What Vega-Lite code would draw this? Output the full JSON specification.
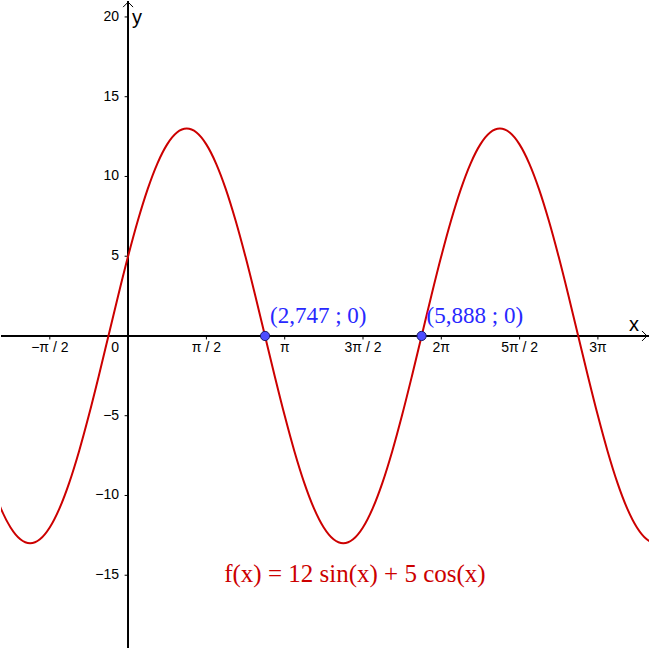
{
  "$schema": "https://vega.github.io/schema/vega-lite/v6.json",
  "width": 650,
  "height": 649,
  "padding": 0,
  "autosize": {"type": "fit", "contains": "padding"},
  "background": "white",
  "config": {"view": {"stroke": null}},
  "datasets": {
    "curve": [
      {"x": -2.751, "y": -9.192}, {"x": -2.5546, "y": -10.809}, {"x": -2.3583, "y": -12.01}, {"x": -2.1619, "y": -12.75},
      {"x": -1.9656, "y": -13}, {"x": -1.7692, "y": -12.75}, {"x": -1.5729, "y": -12.01}, {"x": -1.3765, "y": -10.809},
      {"x": -1.1802, "y": -9.192}, {"x": -0.9838, "y": -7.222}, {"x": -0.7875, "y": -4.975}, {"x": -0.5911, "y": -2.536},
      {"x": -0.3948, "y": 0}, {"x": -0.1985, "y": 2.536}, {"x": -0.0021, "y": 4.975}, {"x": 0.1942, "y": 7.222},
      {"x": 0.3906, "y": 9.192}, {"x": 0.5869, "y": 10.809}, {"x": 0.7833, "y": 12.01}, {"x": 0.9796, "y": 12.75},
      {"x": 1.176, "y": 13}, {"x": 1.3723, "y": 12.75}, {"x": 1.5687, "y": 12.01}, {"x": 1.765, "y": 10.809},
      {"x": 1.9614, "y": 9.192}, {"x": 2.1577, "y": 7.222}, {"x": 2.3541, "y": 4.975}, {"x": 2.5504, "y": 2.536},
      {"x": 2.7468, "y": 0}, {"x": 2.9431, "y": -2.536}, {"x": 3.1395, "y": -4.975}, {"x": 3.3358, "y": -7.222},
      {"x": 3.5322, "y": -9.192}, {"x": 3.7285, "y": -10.809}, {"x": 3.9249, "y": -12.01}, {"x": 4.1212, "y": -12.75},
      {"x": 4.3176, "y": -13}, {"x": 4.5139, "y": -12.75}, {"x": 4.7103, "y": -12.01}, {"x": 4.9066, "y": -10.809},
      {"x": 5.103, "y": -9.192}, {"x": 5.2993, "y": -7.222}, {"x": 5.4957, "y": -4.975}, {"x": 5.692, "y": -2.536},
      {"x": 5.8884, "y": 0}, {"x": 6.0847, "y": 2.536}, {"x": 6.2811, "y": 4.975}, {"x": 6.4774, "y": 7.222},
      {"x": 6.6738, "y": 9.192}, {"x": 6.8701, "y": 10.809}, {"x": 7.0665, "y": 12.01}, {"x": 7.2628, "y": 12.75},
      {"x": 7.4592, "y": 13}, {"x": 7.6555, "y": 12.75}, {"x": 7.8519, "y": 12.01}, {"x": 8.0482, "y": 10.809},
      {"x": 8.2446, "y": 9.192}, {"x": 8.4409, "y": 7.222}, {"x": 8.6373, "y": 4.975}, {"x": 8.8336, "y": 2.536},
      {"x": 9.03, "y": 0}, {"x": 9.2263, "y": -2.536}, {"x": 9.4227, "y": -4.975}, {"x": 9.619, "y": -7.222},
      {"x": 9.8154, "y": -9.192}, {"x": 10.0117, "y": -10.809}, {"x": 10.2081, "y": -12.01}, {"x": 10.4044, "y": -12.75},
      {"x": 10.6008, "y": -13}
    ],
    "xticks": [
      {"v": -1.5708, "lab": "−π / 2"},
      {"v": 1.5708, "lab": "π / 2"},
      {"v": 3.1416, "lab": "π"},
      {"v": 4.7124, "lab": "3π / 2"},
      {"v": 6.2832, "lab": "2π"},
      {"v": 7.854, "lab": "5π / 2"},
      {"v": 9.4248, "lab": "3π"}
    ],
    "yticks": [
      {"v": 20, "lab": "20"},
      {"v": 15, "lab": "15"},
      {"v": 10, "lab": "10"},
      {"v": 5, "lab": "5"},
      {"v": -5, "lab": "−5"},
      {"v": -10, "lab": "−10"},
      {"v": -15, "lab": "−15"}
    ],
    "pts": [
      {"x": 2.747, "y": 0, "lab": "(2,747 ; 0)"},
      {"x": 5.888, "y": 0, "lab": "(5,888 ; 0)"}
    ]
  },
  "layer": [
    {
      "data": {"name": "xticks"},
      "mark": {"type": "rule", "color": "black", "strokeWidth": 1},
      "encoding": {
        "y": {"datum": 0, "type": "quantitative", "scale": {"domain": [-19.5625, 21], "nice": false, "zero": false}, "axis": null}
      }
    },
    {
      "data": {"name": "xticks"},
      "mark": {"type": "rule", "color": "black", "strokeWidth": 1},
      "encoding": {
        "x": {"datum": 0, "type": "quantitative", "scale": {"domain": [-2.55, 10.45], "nice": false, "zero": false}, "axis": null}
      }
    },
    {
      "data": {"name": "xticks"},
      "mark": {"type": "rule", "color": "black", "strokeWidth": 1},
      "encoding": {
        "x": {"field": "v", "type": "quantitative", "scale": {"domain": [-2.55, 10.45], "nice": false, "zero": false}, "axis": null},
        "y": {"datum": 0, "type": "quantitative", "scale": {"domain": [-19.5625, 21], "nice": false, "zero": false}, "axis": null},
        "y2": {"datum": -0.22}
      }
    },
    {
      "data": {"name": "xticks"},
      "mark": {"type": "text", "font": "Liberation Sans", "fontSize": 14, "color": "black", "align": "center", "baseline": "top", "dy": 5},
      "encoding": {
        "x": {"field": "v", "type": "quantitative", "scale": {"domain": [-2.55, 10.45], "nice": false, "zero": false}, "axis": null},
        "y": {"datum": 0, "type": "quantitative", "scale": {"domain": [-19.5625, 21], "nice": false, "zero": false}, "axis": null},
        "text": {"field": "lab"}
      }
    },
    {
      "data": {"name": "yticks"},
      "mark": {"type": "rule", "color": "black", "strokeWidth": 1},
      "encoding": {
        "y": {"field": "v", "type": "quantitative", "scale": {"domain": [-19.5625, 21], "nice": false, "zero": false}, "axis": null},
        "x": {"datum": 0, "type": "quantitative", "scale": {"domain": [-2.55, 10.45], "nice": false, "zero": false}, "axis": null},
        "x2": {"datum": -0.07}
      }
    },
    {
      "data": {"name": "yticks"},
      "mark": {"type": "text", "font": "Liberation Sans", "fontSize": 14, "color": "black", "align": "right", "baseline": "middle", "dx": -9},
      "encoding": {
        "y": {"field": "v", "type": "quantitative", "scale": {"domain": [-19.5625, 21], "nice": false, "zero": false}, "axis": null},
        "x": {"datum": 0, "type": "quantitative", "scale": {"domain": [-2.55, 10.45], "nice": false, "zero": false}, "axis": null},
        "text": {"field": "lab"}
      }
    },
    {
      "data": {"values": [{}]},
      "mark": {"type": "text", "font": "Liberation Sans", "fontSize": 14, "color": "black", "align": "right", "baseline": "top", "dx": -9, "dy": 5, "text": "0"},
      "encoding": {
        "x": {"datum": 0, "type": "quantitative", "scale": {"domain": [-2.55, 10.45], "nice": false, "zero": false}, "axis": null},
        "y": {"datum": 0, "type": "quantitative", "scale": {"domain": [-19.5625, 21], "nice": false, "zero": false}, "axis": null}
      }
    },
    {
      "data": {"values": [{}]},
      "mark": {"type": "point", "shape": "M -1 -1 L 0 0 L -1 1", "size": 100, "filled": false, "stroke": "black", "strokeWidth": 1, "opacity": 1, "clip": true},
      "encoding": {
        "x": {"datum": 10.41, "type": "quantitative", "scale": {"domain": [-2.55, 10.45], "nice": false, "zero": false}, "axis": null},
        "y": {"datum": 0, "type": "quantitative", "scale": {"domain": [-19.5625, 21], "nice": false, "zero": false}, "axis": null}
      }
    },
    {
      "data": {"values": [{}]},
      "mark": {"type": "point", "shape": "M -1 1 L 0 0 L 1 1", "size": 100, "filled": false, "stroke": "black", "strokeWidth": 1, "opacity": 1, "clip": true},
      "encoding": {
        "x": {"datum": 0, "type": "quantitative", "scale": {"domain": [-2.55, 10.45], "nice": false, "zero": false}, "axis": null},
        "y": {"datum": 20.93, "type": "quantitative", "scale": {"domain": [-19.5625, 21], "nice": false, "zero": false}, "axis": null}
      }
    },
    {
      "data": {"values": [{}]},
      "mark": {"type": "text", "font": "Liberation Sans", "fontSize": 20, "color": "black", "align": "center", "baseline": "alphabetic", "dy": -5, "text": "x"},
      "encoding": {
        "x": {"datum": 10.15, "type": "quantitative", "scale": {"domain": [-2.55, 10.45], "nice": false, "zero": false}, "axis": null},
        "y": {"datum": 0, "type": "quantitative", "scale": {"domain": [-19.5625, 21], "nice": false, "zero": false}, "axis": null}
      }
    },
    {
      "data": {"values": [{}]},
      "mark": {"type": "text", "font": "Liberation Sans", "fontSize": 20, "color": "black", "align": "left", "baseline": "alphabetic", "dx": 4, "text": "y"},
      "encoding": {
        "x": {"datum": 0, "type": "quantitative", "scale": {"domain": [-2.55, 10.45], "nice": false, "zero": false}, "axis": null},
        "y": {"datum": 19.56, "type": "quantitative", "scale": {"domain": [-19.5625, 21], "nice": false, "zero": false}, "axis": null}
      }
    },
    {
      "data": {"name": "curve"},
      "mark": {"type": "line", "color": "#CC0000", "strokeWidth": 2, "interpolate": "monotone", "clip": true},
      "encoding": {
        "x": {"field": "x", "type": "quantitative", "scale": {"domain": [-2.55, 10.45], "nice": false, "zero": false}, "axis": null},
        "y": {"field": "y", "type": "quantitative", "scale": {"domain": [-19.5625, 21], "nice": false, "zero": false}, "axis": null}
      }
    },
    {
      "data": {"name": "pts"},
      "mark": {"type": "point", "shape": "circle", "size": 85, "filled": true, "fill": "#4D4DFF", "stroke": "#1A1A66", "strokeWidth": 1, "opacity": 1},
      "encoding": {
        "x": {"field": "x", "type": "quantitative", "scale": {"domain": [-2.55, 10.45], "nice": false, "zero": false}, "axis": null},
        "y": {"field": "y", "type": "quantitative", "scale": {"domain": [-19.5625, 21], "nice": false, "zero": false}, "axis": null}
      }
    },
    {
      "data": {"name": "pts"},
      "mark": {"type": "text", "font": "Liberation Serif", "fontSize": 23, "color": "#2828FF", "align": "left", "baseline": "alphabetic", "dx": 5, "dy": -13},
      "encoding": {
        "x": {"field": "x", "type": "quantitative", "scale": {"domain": [-2.55, 10.45], "nice": false, "zero": false}, "axis": null},
        "y": {"field": "y", "type": "quantitative", "scale": {"domain": [-19.5625, 21], "nice": false, "zero": false}, "axis": null},
        "text": {"field": "lab"}
      }
    },
    {
      "data": {"values": [{}]},
      "mark": {"type": "text", "font": "Liberation Serif", "fontSize": 25, "color": "#CC0000", "align": "center", "baseline": "alphabetic", "text": "f(x) = 12 sin(x) + 5 cos(x)"},
      "encoding": {
        "x": {"datum": 4.55, "type": "quantitative", "scale": {"domain": [-2.55, 10.45], "nice": false, "zero": false}, "axis": null},
        "y": {"datum": -15.44, "type": "quantitative", "scale": {"domain": [-19.5625, 21], "nice": false, "zero": false}, "axis": null}
      }
    }
  ]
}
